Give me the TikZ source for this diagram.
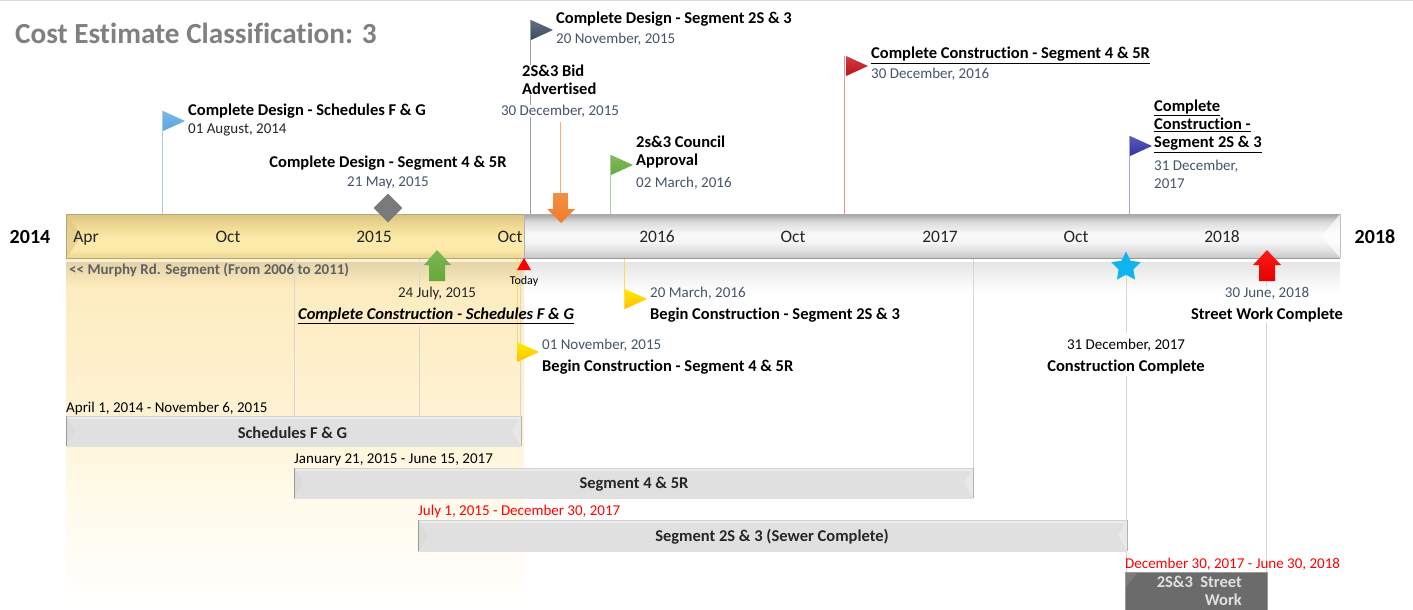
\documentclass[tikz,border=0pt]{standalone}
\usepackage{fontspec}
\setmainfont{Carlito}[Ligatures=NoCommon]
\usetikzlibrary{shapes.geometric,shapes.misc}
\definecolor{slate}{HTML}{44546A}
\definecolor{ptxt}{HTML}{262626}
\definecolor{vline}{HTML}{D6D6D6}
\definecolor{gbA}{HTML}{EAD590}
\definecolor{gbB}{HTML}{FDEAAA}
\definecolor{gbC}{HTML}{FDEBAC}
\definecolor{gbD}{HTML}{F1DC96}
\definecolor{gbE}{HTML}{DCC485}
\definecolor{todA}{HTML}{FDEBBC}
\definecolor{todB}{HTML}{FEF2D3}
\definecolor{todC}{HTML}{FFFAEA}
\definecolor{cFG}{HTML}{5BA5E2}
\definecolor{cGr}{HTML}{66A83A}
\definecolor{cRd}{HTML}{C00F1A}
\definecolor{cBl}{HTML}{2F34A4}
\definecolor{cOr}{HTML}{F07C26}
\definecolor{cYe}{HTML}{FFC000}
\definecolor{cStar}{HTML}{0FB4EE}
\pgfdeclareverticalshading{graybar}{100bp}{
 color(0bp)=(black!22); color(25bp)=(black!22); color(32bp)=(black!14); color(43bp)=(white!96!black); color(52bp)=(white!98!black);
 color(66bp)=(black!14); color(75bp)=(black!36); color(100bp)=(black!36)}
\pgfdeclareverticalshading{goldbar}{100bp}{
 color(0bp)=(gbA); color(25bp)=(gbA); color(35bp)=(gbB); color(46bp)=(gbC); color(60bp)=(gbD); color(75bp)=(gbE); color(100bp)=(gbE)}
\pgfdeclareverticalshading{todayshade}{100bp}{
 color(0bp)=(white); color(25bp)=(white); color(41bp)=(todC); color(53bp)=(todB); color(75bp)=(todA); color(100bp)=(todA)}
\pgfdeclareverticalshading{taskbar}{100bp}{
 color(0bp)=(black!12); color(25bp)=(black!12); color(30bp)=(black!12); color(70bp)=(black!12); color(73bp)=(black!5); color(75bp)=(black!18); color(100bp)=(black!18)}
\tikzset{
 x=1pt,y=-1pt,
 lab/.style={inner sep=0pt,anchor=west,yshift=-1.2pt,font=\fontsize{16.5}{18}\selectfont\bfseries,text=black,align=left},
 labc/.style={lab,anchor=center,align=center},
 dat/.style={inner sep=0pt,anchor=west,yshift=-1.2pt,font=\fontsize{15}{18}\selectfont,text=slate,align=left},
 datc/.style={dat,anchor=center,align=center},
 ticklab/.style={inner sep=0pt,anchor=center,text height=11pt,text depth=3pt,font=\fontsize{17.5}{18}\selectfont,text=ptxt},
 yearlab/.style={inner sep=0pt,anchor=center,font=\fontsize{20}{20}\selectfont\bfseries,text=black},
 daterange/.style={inner sep=0pt,anchor=west,yshift=-1pt,font=\fontsize{15}{18}\selectfont,text=black},
 poleline/.style={line width=0.8pt},
 vl/.style={draw=vline,line width=0.9pt},
 tasktext/.style={inner sep=0pt,anchor=center,yshift=-0.5pt,font=\fontsize{16.5}{18}\selectfont\bfseries,text=ptxt},
}
\newcommand{\flagat}[3]{% x, ytop, colour
 \shade[left color=#3!80!white,right color=#3,shading angle=0] (#1,#2) -- (#1+22,#2+10) -- (#1,#2+20) -- cycle;}
\begin{document}
\begin{tikzpicture}
\useasboundingbox (0,0) rectangle (1413,610);
\fill[white] (0,0) rectangle (1413,610);
\fill[black!15] (0,0) rectangle (1413,1);

% today shading
\shade[shading=todayshade] (66,258) rectangle (524,610);
% reflection under bar
\shade[top color=black!10,bottom color=white] (524,262) rectangle (1340,292);
\shade[top color=black!10!todA,bottom color=todA] (66,262) rectangle (524,286);
\fill[todB] (66,258) rectangle (524,262);
\fill[white] (524,258) rectangle (1340,262);

% coordinates on the axis
\coordinate (aFG) at (162,214);
\coordinate (a2S) at (530.5,214);
\coordinate (aOr) at (560.5,214);
\coordinate (aGr) at (610.5,214);
\coordinate (aRd) at (844.5,214);
\coordinate (aBl) at (1129,214);
\coordinate (bY1) at (624.5,258);
\coordinate (bY2) at (517,258);
\coordinate (bV1) at (294.5,258);
\coordinate (bV2) at (419.5,258);
\coordinate (bV3) at (520,258);
\coordinate (bV4) at (973,258);
\coordinate (bV5) at (1126.5,258);
\coordinate (bV6) at (1266.5,258);

% end points
\coordinate (tFG) at (162,111);
\coordinate (t2S) at (530.5,20);
\coordinate (tOr) at (560.5,122);
\coordinate (tGr) at (610.5,155);
\coordinate (tRd) at (844.5,56);
\coordinate (tBl) at (1129,136);
\coordinate (eY1) at (624.5,309);
\coordinate (eY2) at (517,362);
\coordinate (eV1) at (294.5,416);
\coordinate (eV2a) at (419.5,286);
\coordinate (eV2b) at (419.5,326);
\coordinate (eV2c) at (419.5,416);
\coordinate (eV3) at (520,416);
\coordinate (eV4) at (973,468);
\coordinate (eV5a) at (1126.5,333);
\coordinate (eV5b) at (1126.5,376);
\coordinate (eV5c) at (1126.5,572);
\coordinate (eV6a) at (1266.5,323);
\coordinate (eV6b) at (1266.5,572);
\coordinate (eV6t) at (1266.5,286);

% vertical guide lines
\draw[vl] (bV1) -- (eV1);
\draw[vl] (bV2) -- (eV2a);
\draw[vl] (eV2b) -- (eV2c);
\draw[vl] (bV3) -- (eV3);
\draw[vl] (bV4) -- (eV4);
\draw[vl] (bV5) -- (eV5a);
\draw[vl] (eV5b) -- (eV5c);
\draw[vl] (eV6a) -- (eV6b);
\draw[vl] (bV6) -- (eV6t);

% flag poles
\draw[poleline,draw=cFG!55!white] (aFG) -- (tFG);
\draw[poleline,draw=slate!55!white] (a2S) -- (t2S);
\draw[poleline,draw=cOr!60!white] (aOr) -- (tOr);
\draw[poleline,draw=cGr!55!white] (aGr) -- (tGr);
\draw[poleline,draw=cRd!45!white] (aRd) -- (tRd);
\draw[poleline,draw=cBl!45!white] (aBl) -- (tBl);
\draw[poleline,draw=cYe!60!white] (bY1) -- (eY1);
\draw[poleline,draw=cYe!60!white] (bY2) -- (eY2);

% main bar
\shade[shading=goldbar] (66,214) rectangle (524,258);
\shade[shading=graybar] (524,214) rectangle (1340,258);
\fill[gbE,opacity=.6] (66,214) -- (82,236) -- (66,258) -- cycle;
\fill[white,opacity=.7] (1340,214) -- (1322,236) -- (1340,258) -- cycle;
\draw[gbE!85!black,line width=1pt] (66,214) -- (524,214);
\draw[gbE!85!black,line width=1pt] (66,214) -- (66,258);
\draw[gbE!85!black,line width=1pt] (66,258) -- (524,258);
\draw[black!32,line width=1pt] (524,214) -- (1340,214);
\draw[black!40,line width=1pt] (524,258) -- (1340,258);
\draw[black!25,line width=1pt] (1340,214) -- (1340,258);
\draw[black!30,line width=1pt] (524,214) -- (524,258);

% tick labels
\node[ticklab] (tApr) at (86,238) {Apr};
\node[ticklab] (tO1) at (228,238) {Oct};
\node[ticklab] (t15) at (374,238) {2015};
\node[ticklab] (tO2) at (510,238) {Oct};
\node[ticklab] (t16) at (657,238) {2016};
\node[ticklab] (tO3) at (793,238) {Oct};
\node[ticklab] (t17) at (940,238) {2017};
\node[ticklab] (tO4) at (1076,238) {Oct};
\node[ticklab] (t18) at (1222,238) {2018};
\node[yearlab] (y14) at (30,237) {2014};
\node[yearlab] (y18) at (1375,237) {2018};

% title
\node[inner sep=0pt,anchor=west,font=\fontsize{29.2}{30}\selectfont\bfseries,text=black!50] (title) at (15,33) {Cost Estimate Classification: 3};

% flags
\flagat{163}{111}{cFG}
\flagat{531}{20}{slate!90!black}
\flagat{611}{155}{cGr}
\flagat{846}{56}{cRd}
\flagat{1130}{136}{cBl}
\shade[left color=yellow!70!cYe,right color=cYe,shading angle=0] (625,289) -- (647,299) -- (625,309) -- cycle;
\shade[left color=yellow!70!cYe,right color=cYe,shading angle=0] (517,342) -- (539,352) -- (517,362) -- cycle;

% diamond
\node[diamond,aspect=1,minimum width=29pt,minimum height=29pt,inner sep=0pt,draw=none,fill=black!52] (dia) at (388,208) {};
% orange arrow
\shade[top color=cOr!85!white,bottom color=cOr] (553,193) -- (568,193) -- (568,209) -- (575,209) -- (561,223) -- (547,209) -- (553,209) -- cycle;
% green arrow up
\shade[top color=cGr!85!white,bottom color=cGr] (437,250) -- (451,265) -- (445,265) -- (445,281) -- (429,281) -- (429,265) -- (424,265) -- cycle;
% today
\node[isosceles triangle,isosceles triangle apex angle=60,shape border rotate=90,minimum height=12pt,minimum width=14pt,inner sep=0pt,fill=red] (tod) at (524,266) {};
\node[inner sep=0pt,font=\fontsize{12}{12}\selectfont,text=black] (todl) at (524,281) {Today};
% star
\node[star,star points=5,star point ratio=2,minimum size=31pt,inner sep=0pt,fill=cStar,draw=none] (star) at (1126,267) {};
% red arrow up
\shade[top color=red!90!white,bottom color=red!90!black] (1267,250) -- (1281,265) -- (1275,265) -- (1275,281) -- (1259,281) -- (1259,265) -- (1253,265) -- cycle;

% labels above
\node[lab] (l1) at (188,110) {Complete Design - Schedules F \& G};
\node[dat,text=ptxt] (d1) at (188,129) {01 August, 2014};
\node[lab] (l2) at (556,18) {Complete Design - Segment 2S \& 3};
\node[dat] (d2) at (556,38) {20 November, 2015};
\node[lab,fill=white] (l3) at (522,79) {2S\&3 Bid\\Advertised};
\node[datc,fill=white] (d3) at (560,110) {30 December, 2015};
\node[labc] (l4) at (388,162) {Complete Design - Segment 4 \& 5R};
\node[datc] (d4) at (388,182) {21 May, 2015};
\node[lab] (l5) at (636,151) {2s\&3 Council\\Approval};
\node[dat] (d5) at (636,182) {02 March, 2016};
\node[lab] (l6) at (871,54) {\underline{Complete Construction - Segment 4 \& 5R}};
\node[dat] (d6) at (871,73) {30 December, 2016};
\node[lab] (l7) at (1154,125) {\underline{Complete}\\\underline{Construction -}\\\underline{Segment 2S \& 3}};
\node[dat] (d7) at (1154,173) {31 December,\\2017};

% labels below
\node[inner sep=0pt,anchor=west,font=\fontsize{15}{15}\selectfont\bfseries,text=black!62] (mur) at (69,270) {<{}< Murphy Rd. Segment (From 2006 to 2011)};
\node[datc,text=ptxt] (d8) at (437,292) {24 July, 2015};
\node[lab,font=\fontsize{16.5}{18}\selectfont\bfseries\itshape] (l8) at (298,315) {\underline{Complete Construction - Schedules F \& G}};
\node[dat] (d9) at (650,292) {20 March, 2016};
\node[lab] (l9) at (650,314) {Begin Construction - Segment 2S \& 3};
\node[dat] (d10) at (542,344) {01 November, 2015};
\node[lab] (l10) at (542,366) {Begin Construction - Segment 4 \& 5R};
\node[datc,text=black] (d11) at (1126,344) {31 December, 2017};
\node[labc] (l11) at (1126,366) {Construction Complete};
\node[datc] (d12) at (1267,292) {30 June, 2018};
\node[labc] (l12) at (1267,314) {Street Work Complete};

% task bars
\shade[shading=taskbar] (66,416) rectangle (521,446);
\shade[shading=taskbar] (294,468) rectangle (973,498);
\shade[shading=taskbar] (418,520) rectangle (1127,551);
\foreach \xa/\xb/\ya/\yb in {66/521/416/446,294/973/468/498,418/1127/520/551}{
 \fill[black!14] (\xa,\ya) -- (\xa+9,\ya+15) -- (\xa,\yb) -- cycle;
 \fill[black!9] (\xb,\ya) -- (\xb-9,\ya+15) -- (\xb,\yb) -- cycle;
 \draw[black!40,line width=.9pt] (\xa,\ya) -- (\xa,\yb);
 \draw[black!30,line width=.9pt] (\xb,\ya) -- (\xb,\yb);
}
\node[tasktext] (s1) at (292.5,432) {Schedules F \& G};
\node[tasktext] (s2) at (634,484) {Segment 4 \& 5R};
\node[tasktext] (s3) at (772,536) {Segment 2S \& 3 (Sewer Complete)};
\node[daterange] (r1) at (66,407) {April 1, 2014 - November 6, 2015};
\node[daterange] (r2) at (294,459) {January 21, 2015 - June 15, 2017};
\node[daterange,text=red] (r3) at (418,510) {July 1, 2015 - December 30, 2017};
\node[daterange,text=red] (r4) at (1125,563) {December 30, 2017 - June 30, 2018};

% street work
\fill[black!58] (1125,572) rectangle (1267,610);
\fill[black!52] (1125,572) -- (1138,572) -- (1125,588) -- cycle;
\draw[black!40,line width=.8pt] (1125,572) -- (1267,572);
\draw[black!40,line width=.8pt] (1125,572) -- (1125,610);
\draw[black!40,line width=.8pt] (1267,572) -- (1267,610);
\node[inner sep=0pt,anchor=east,align=right,font=\fontsize{16.5}{18}\selectfont\bfseries,text=black!12] (s4) at (1242,591) {2S\&3\ \ Street\\Work};
\end{tikzpicture}
\end{document}
